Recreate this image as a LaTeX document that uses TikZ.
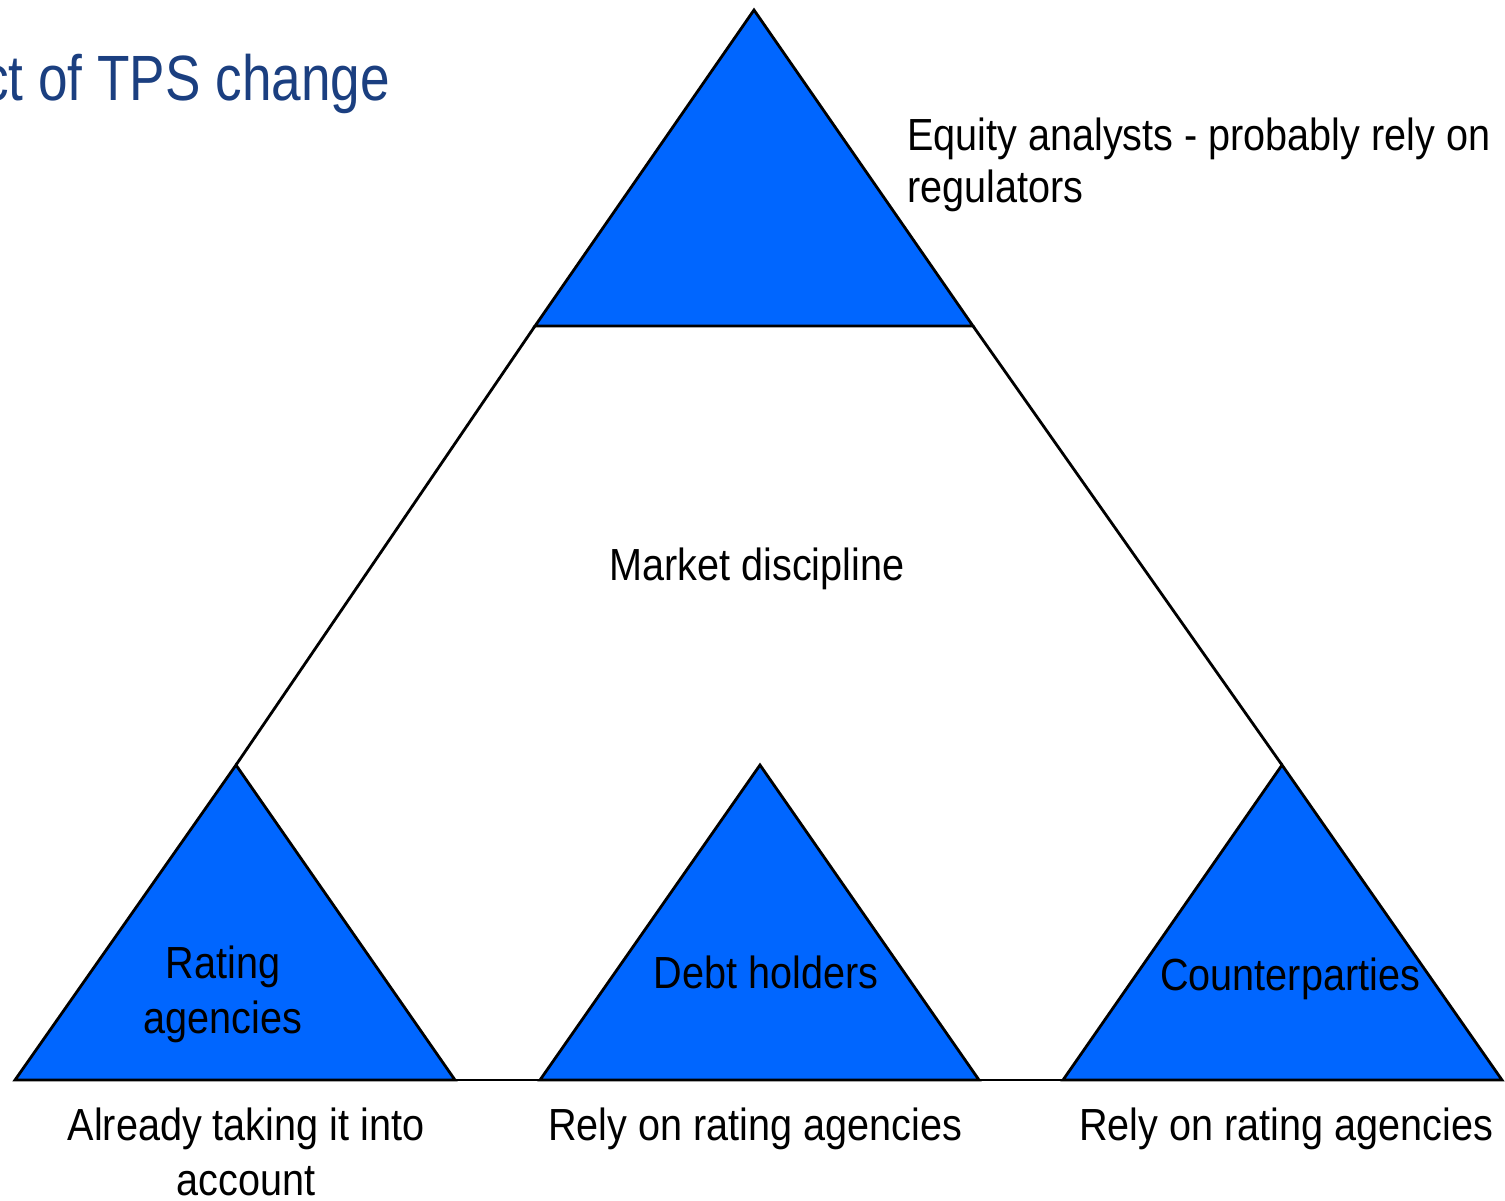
\documentclass[tikz,border=0pt]{standalone}
\usepackage{fontspec}
\setmainfont{Liberation Sans}
\newfontfamily\narrowfont[FakeStretch=0.88]{Liberation Sans}
\newfontfamily\headfont[FakeStretch=0.83]{Liberation Sans}
\definecolor{triblue}{HTML}{0066FF}
\definecolor{headblue}{HTML}{1B3F80}

\begin{document}
\begin{tikzpicture}[x=1pt,y=-1pt]

    \tikzset{
      tri/.style={
        fill=triblue,
        draw=black,
        line width=2.8pt,
      },
      link/.style={draw=black, line width=2.8pt},
      lbl/.style={
        font=\narrowfont\fontsize{45}{55}\selectfont,
        inner sep=0pt,
        align=center,
      },
    }
    \useasboundingbox (0,0) rectangle (1505,1200);

    % apex and base corners of each triangle
    \coordinate (topA) at (754,10);   \coordinate (topL) at (535,326);  \coordinate (topR) at (973,326);
    \coordinate (rateA) at (236,765); \coordinate (rateL) at (15,1080); \coordinate (rateR) at (455,1080);
    \coordinate (debtA) at (760,765); \coordinate (debtL) at (540,1080); \coordinate (debtR) at (979,1080);
    \coordinate (cntA) at (1282,765); \coordinate (cntL) at (1063,1080); \coordinate (cntR) at (1502,1080);

	\filldraw[tri] (topA) -- (topL) -- (topR) -- cycle;
	\filldraw[tri] (rateA) -- (rateL) -- (rateR) -- cycle;
	\filldraw[tri] (debtA) -- (debtL) -- (debtR) -- cycle;
	\filldraw[tri] (cntA) -- (cntL) -- (cntR) -- cycle;

    % outline of the large triangle between the small ones
	\draw[link] (topL) -- (rateA);
	\draw[link] (topR) -- (cntA);
	\draw[link] (rateR) -- (debtL);
	\draw[link] (debtR) -- (cntL);

	\node[anchor=base east, inner sep=0pt, text=headblue, font=\headfont\fontsize{64}{70}\selectfont] (title) at (390,100) {ct of TPS change};
	\node[lbl, anchor=base west, align=left, font=\narrowfont\fontsize{45}{52}\selectfont] (equity) at (907,202) {Equity analysts - probably rely on\\regulators};
	\node[lbl, anchor=base] (market) at (757,580) {Market discipline};
	\node[lbl, anchor=base] (rating) at (223,1033) {Rating\\agencies};
	\node[lbl, anchor=base] (debt) at (766,988) {Debt holders};
	\node[lbl, anchor=base] (cnt) at (1290,990) {Counterparties};
	\node[lbl, anchor=base] (already) at (246,1195) {Already taking it into\\account};
	\node[lbl, anchor=base] (relyd) at (755,1140) {Rely on rating agencies};
	\node[lbl, anchor=base] (relyc) at (1286,1140) {Rely on rating agencies};

\end{tikzpicture}
\end{document}
